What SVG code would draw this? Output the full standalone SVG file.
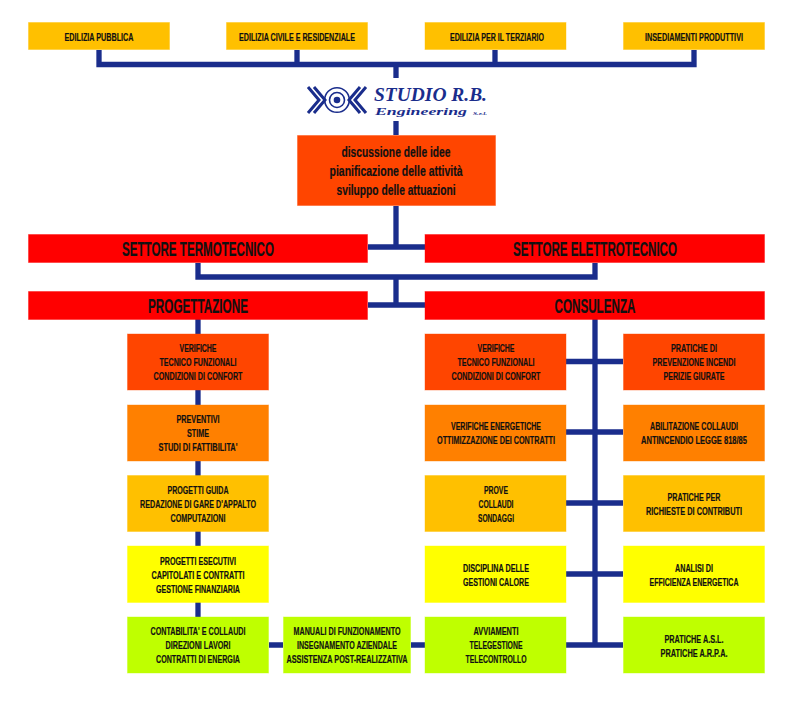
<svg xmlns="http://www.w3.org/2000/svg" width="800" height="709" viewBox="0 0 800 709">
<style>
text{font-family:"Liberation Sans Narrow","Liberation Sans",sans-serif;font-weight:700;fill:#111;stroke:#111;stroke-width:.2;text-anchor:middle}
.s{font-size:11.5px}
.n{font-size:10.5px}
.t{font-size:11.5px}
.m{font-size:15.5px}
.b{font-size:20px}
.line{fill:none;stroke:#1a2d8c;stroke-width:5.3}
rect{stroke-opacity:.4;stroke-width:1}
.a{fill:#ffc000;stroke:#ffc000}.r{fill:#ff0000;stroke:#ff0000}.o{fill:#ff4500;stroke:#ff4500}.g{fill:#ff8000;stroke:#ff8000}.y{fill:#ffff00;stroke:#ffff00}.l{fill:#bfff00;stroke:#bfff00}
.logo{font-family:"Liberation Serif",serif;font-style:italic;fill:#1a2d8c;stroke:none;text-anchor:start}
</style>
<rect width="800" height="709" fill="#fff"/>
<g id="connectors" class="line">
<path d="M99 50V64.5H694V50M297 50V64.5M495 50V64.5M396 64.5V78M396 121V135M396 206V247M368 247H425"/>
<path d="M198 263V277H595V263M396 277V305M368 305H425"/>
<path d="M198 319V617M595 319V645M566 361.5H623M566 432H623M566 503H623M566 574H623M566 645H623M269 645H283M411 645H425"/>
</g>
<g id="top1"><rect class="a" x="28.500" y="22.500" width="141" height="27"/><text class="t" x="99" y="40.500" textLength="69" lengthAdjust="spacingAndGlyphs">EDILIZIA PUBBLICA</text></g>
<g id="top2"><rect class="a" x="226.500" y="22.500" width="141" height="27"/><text class="t" x="297" y="40.500" textLength="116" lengthAdjust="spacingAndGlyphs">EDILIZIA CIVILE E RESIDENZIALE</text></g>
<g id="top3"><rect class="a" x="425" y="22.500" width="141" height="27"/><text class="t" x="497" y="40.500" textLength="94" lengthAdjust="spacingAndGlyphs">EDILIZIA PER IL TERZIARIO</text></g>
<g id="top4"><rect class="a" x="623.500" y="22.500" width="141" height="27"/><text class="t" x="694" y="40.500" textLength="98" lengthAdjust="spacingAndGlyphs">INSEDIAMENTI PRODUTTIVI</text></g>
<g id="logo">
<g fill="none" stroke="#1a2d8c" stroke-width="3">
<path d="M308 87L319 100L308 113M314 87L325 100L314 113M366 87L355 100L366 113M360 87L349 100L360 113"/>
<circle cx="337" cy="100" r="12.300" stroke-width="1.600"/><circle cx="337" cy="100" r="7.500" stroke-width="1.600"/>
</g>
<circle cx="337" cy="100" r="3.300" fill="#1a2d8c"/>
<text class="logo" x="374" y="100.500" font-size="18" textLength="113" lengthAdjust="spacingAndGlyphs">STUDIO R.B.</text>
<text class="logo" x="375" y="114.500" font-size="11" textLength="92" lengthAdjust="spacingAndGlyphs">Engineering</text>
<text class="logo" x="473" y="114.500" font-size="5" textLength="14" lengthAdjust="spacingAndGlyphs">S.r.l.</text>
</g>
<g id="discussione"><rect class="o" x="297.500" y="135.500" width="198" height="70"/>
<text class="m" x="396" y="156.500" textLength="109" lengthAdjust="spacingAndGlyphs">discussione delle idee</text>
<text class="m" x="396" y="175.500" textLength="133" lengthAdjust="spacingAndGlyphs">pianificazione delle attività</text>
<text class="m" x="396" y="194.500" textLength="119" lengthAdjust="spacingAndGlyphs">sviluppo delle attuazioni</text></g>
<g id="termotecnico"><rect class="r" x="28.500" y="234.500" width="339" height="28"/><text class="b" x="198" y="256" textLength="152" lengthAdjust="spacingAndGlyphs">SETTORE TERMOTECNICO</text></g>
<g id="elettrotecnico"><rect class="r" x="425" y="234.500" width="339.500" height="28"/><text class="b" x="595" y="256" textLength="164" lengthAdjust="spacingAndGlyphs">SETTORE ELETTROTECNICO</text></g>
<g id="progettazione"><rect class="r" x="28.500" y="291.500" width="339" height="28"/><text class="b" x="198" y="313" textLength="100" lengthAdjust="spacingAndGlyphs">PROGETTAZIONE</text></g>
<g id="consulenza"><rect class="r" x="425" y="291.500" width="339.500" height="28"/><text class="b" x="595" y="313" textLength="81" lengthAdjust="spacingAndGlyphs">CONSULENZA</text></g>

<g id="l1"><rect class="o" x="127.500" y="334" width="141" height="56"/>
<text class="s" x="198" y="351.500" textLength="37" lengthAdjust="spacingAndGlyphs">VERIFICHE</text>
<text class="s" x="198" y="366" textLength="77" lengthAdjust="spacingAndGlyphs">TECNICO FUNZIONALI</text>
<text class="s" x="198" y="380" textLength="89" lengthAdjust="spacingAndGlyphs">CONDIZIONI DI CONFORT</text></g>
<g id="l2"><rect class="g" x="127.500" y="405" width="141" height="56"/>
<text class="s" x="198" y="423" textLength="43" lengthAdjust="spacingAndGlyphs">PREVENTIVI</text>
<text class="s" x="198" y="437" textLength="22" lengthAdjust="spacingAndGlyphs">STIME</text>
<text class="s" x="198" y="451" textLength="79" lengthAdjust="spacingAndGlyphs">STUDI DI FATTIBILITA'</text></g>
<g id="l3"><rect class="a" x="127.500" y="475.500" width="141" height="56"/>
<text class="s" x="198" y="493.500" textLength="61" lengthAdjust="spacingAndGlyphs">PROGETTI GUIDA</text>
<text class="s" x="198" y="508" textLength="116" lengthAdjust="spacingAndGlyphs">REDAZIONE DI GARE D'APPALTO</text>
<text class="s" x="198" y="522" textLength="55" lengthAdjust="spacingAndGlyphs">COMPUTAZIONI</text></g>
<g id="l4"><rect class="y" x="127.500" y="546" width="141" height="56.500"/>
<text class="s" x="198" y="564.500" textLength="76" lengthAdjust="spacingAndGlyphs">PROGETTI ESECUTIVI</text>
<text class="s" x="198" y="579" textLength="93" lengthAdjust="spacingAndGlyphs">CAPITOLATI E CONTRATTI</text>
<text class="s" x="198" y="593" textLength="84" lengthAdjust="spacingAndGlyphs">GESTIONE FINANZIARIA</text></g>
<g id="l5"><rect class="l" x="127.500" y="617" width="141" height="56"/>
<text class="s" x="198" y="635" textLength="95" lengthAdjust="spacingAndGlyphs">CONTABILITA' E COLLAUDI</text>
<text class="s" x="198" y="649" textLength="65" lengthAdjust="spacingAndGlyphs">DIREZIONI LAVORI</text>
<text class="s" x="198" y="663" textLength="84" lengthAdjust="spacingAndGlyphs">CONTRATTI DI ENERGIA</text></g>
<g id="m5"><rect class="l" x="283.500" y="617" width="127" height="56"/>
<text class="n" x="347" y="635" textLength="107" lengthAdjust="spacingAndGlyphs">MANUALI DI FUNZIONAMENTO</text>
<text class="s" x="347" y="649" textLength="100" lengthAdjust="spacingAndGlyphs">INSEGNAMENTO AZIENDALE</text>
<text class="n" x="347" y="663" textLength="121" lengthAdjust="spacingAndGlyphs">ASSISTENZA POST-REALIZZATIVA</text></g>

<g id="c1"><rect class="o" x="425" y="334" width="141" height="56"/>
<text class="s" x="496" y="351.500" textLength="37" lengthAdjust="spacingAndGlyphs">VERIFICHE</text>
<text class="s" x="496" y="366" textLength="77" lengthAdjust="spacingAndGlyphs">TECNICO FUNZIONALI</text>
<text class="s" x="496" y="380" textLength="89" lengthAdjust="spacingAndGlyphs">CONDIZIONI DI CONFORT</text></g>
<g id="c2"><rect class="g" x="425" y="405" width="141" height="56"/>
<text class="s" x="496" y="430" textLength="90" lengthAdjust="spacingAndGlyphs">VERIFICHE ENERGETICHE</text>
<text class="s" x="496" y="444" textLength="118" lengthAdjust="spacingAndGlyphs">OTTIMIZZAZIONE DEI CONTRATTI</text></g>
<g id="c3"><rect class="a" x="425" y="475.500" width="141" height="56"/>
<text class="s" x="496" y="493.500" textLength="24" lengthAdjust="spacingAndGlyphs">PROVE</text>
<text class="s" x="496" y="508" textLength="35" lengthAdjust="spacingAndGlyphs">COLLAUDI</text>
<text class="s" x="496" y="522" textLength="36" lengthAdjust="spacingAndGlyphs">SONDAGGI</text></g>
<g id="c4"><rect class="y" x="425" y="546" width="141" height="56.500"/>
<text class="s" x="496" y="572" textLength="66" lengthAdjust="spacingAndGlyphs">DISCIPLINA DELLE</text>
<text class="s" x="496" y="586" textLength="66" lengthAdjust="spacingAndGlyphs">GESTIONI CALORE</text></g>
<g id="c5"><rect class="l" x="425" y="617" width="141" height="56"/>
<text class="s" x="496" y="635" textLength="45" lengthAdjust="spacingAndGlyphs">AVVIAMENTI</text>
<text class="s" x="496" y="649" textLength="53" lengthAdjust="spacingAndGlyphs">TELEGESTIONE</text>
<text class="s" x="496" y="663" textLength="61" lengthAdjust="spacingAndGlyphs">TELECONTROLLO</text></g>

<g id="d1"><rect class="o" x="623.500" y="334" width="141" height="56"/>
<text class="s" x="694" y="351.500" textLength="46" lengthAdjust="spacingAndGlyphs">PRATICHE DI</text>
<text class="s" x="694" y="366" textLength="83" lengthAdjust="spacingAndGlyphs">PREVENZIONE INCENDI</text>
<text class="s" x="694" y="380" textLength="61" lengthAdjust="spacingAndGlyphs">PERIZIE GIURATE</text></g>
<g id="d2"><rect class="g" x="623.500" y="405" width="141" height="56"/>
<text class="s" x="694" y="430" textLength="88" lengthAdjust="spacingAndGlyphs">ABILITAZIONE COLLAUDI</text>
<text class="n" x="694" y="444" textLength="106" lengthAdjust="spacingAndGlyphs">ANTINCENDIO LEGGE 818/85</text></g>
<g id="d3"><rect class="a" x="623.500" y="475.500" width="141" height="56"/>
<text class="s" x="694" y="501" textLength="53" lengthAdjust="spacingAndGlyphs">PRATICHE PER</text>
<text class="s" x="694" y="515" textLength="96" lengthAdjust="spacingAndGlyphs">RICHIESTE DI CONTRIBUTI</text></g>
<g id="d4"><rect class="y" x="623.500" y="546" width="141" height="56.500"/>
<text class="s" x="694" y="572" textLength="38" lengthAdjust="spacingAndGlyphs">ANALISI DI</text>
<text class="s" x="694" y="586" textLength="89" lengthAdjust="spacingAndGlyphs">EFFICIENZA ENERGETICA</text></g>
<g id="d5"><rect class="l" x="623.500" y="617" width="141" height="56"/>
<text class="s" x="694" y="642.500" textLength="59" lengthAdjust="spacingAndGlyphs">PRATICHE A.S.L.</text>
<text class="s" x="694" y="656.500" textLength="67" lengthAdjust="spacingAndGlyphs">PRATICHE A.R.P.A.</text></g>
</svg>
